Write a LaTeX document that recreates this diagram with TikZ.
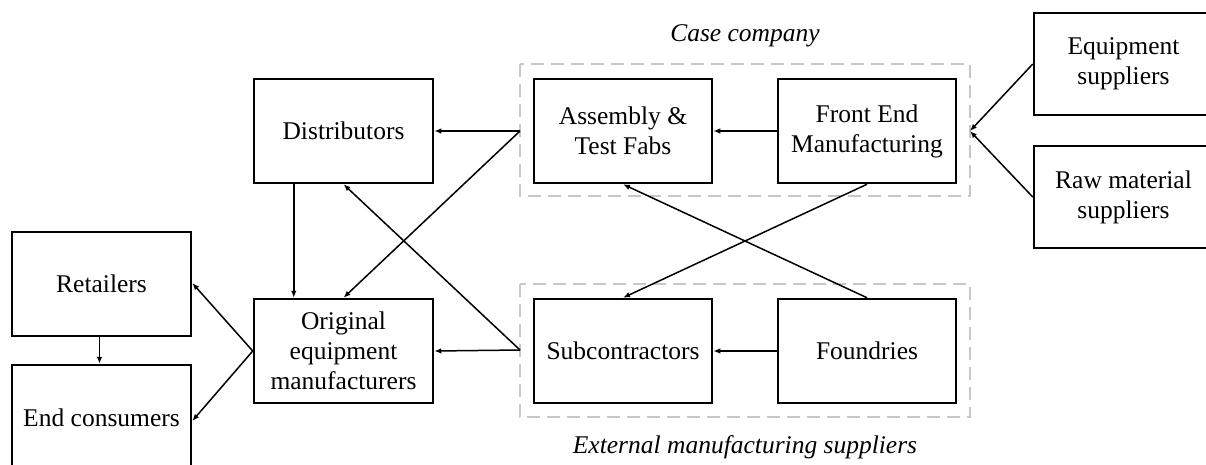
\documentclass[tikz,border=0pt]{standalone}
\usepackage{fontspec}
\setmainfont{Liberation Serif}
\usetikzlibrary{arrows.meta}
\tikzset{
  box/.style={draw=black, line width=2.5pt, minimum width=179pt, minimum height=104pt, inner sep=0pt, align=center, font=\fontsize{25.5}{30}\selectfont},
  grp/.style={draw=black!22, line width=2.2pt, dash pattern=on 13pt off 7pt},
  arr/.style={line width=1.5pt, -{Latex[length=7pt,width=5.5pt]}},
  grpcaption/.style={font=\fontsize{25.5}{30}\selectfont\itshape}
}
\begin{document}
\begin{tikzpicture}[x=1pt,y=-1pt]
\useasboundingbox (0,0) rectangle (1206,464);
\clip (0,0) rectangle (1206,464);
\fill[white] (0,0) rectangle (1206,464);
% groups
\draw[grp] (520,64) rectangle (970,196);
\draw[grp] (520,284) rectangle (970,417);
\node[grpcaption] (casecap) at (745,36) {Case company};
\node[grpcaption] (extcap) at (745,447) {External manufacturing suppliers};
% boxes
\node[box] (dist) at (343.5,131) {Distributors};
\node[box, minimum width=178pt] (asm) at (623,131) {Assembly \&\\Test Fabs};
\node[box, minimum width=178pt] (fe) at (867,131) {Front End\\Manufacturing};
\node[box, minimum height=102pt] (eq) at (1123.5,64) {Equipment\\suppliers};
\node[box, minimum height=102pt] (raw) at (1123.5,197) {Raw material\\suppliers};
\node[box] (ret) at (101.5,284) {Retailers};
\node[box] (endc) at (101.5,417) {};
\node[font=\fontsize{25.5}{30}\selectfont] (endct) at (101.5,418) {End consumers};
\node[box] (oem) at (343.5,351) {Original\\equipment\\manufacturers};
\node[box, minimum width=178pt] (sub) at (623,351) {Subcontractors};
\node[box, minimum width=178pt] (fou) at (867,351) {Foundries};
% junction points
\coordinate (fein) at (970,131);
\coordinate (cl) at (520,131);
\coordinate (el) at (520,350);
% connectors
\draw[arr] (fe.west) -- (asm.east);
\draw[arr] (eq.west) -- (fein);
\draw[arr] (raw.west) -- (fein);
\draw[arr] (cl) -- (dist.east);
\draw[arr] (cl) -- (oem.north);
\draw[arr] (el) -- (oem.east);
\draw[arr] (el) -- (dist.south);
\draw[arr] (fe.south) -- (sub.north);
\draw[arr] (fou.north) -- (asm.south);
\draw[arr] (fou.west) -- (sub.east);
\draw[arr] ([xshift=41pt]dist.south west) -- ([xshift=41pt]oem.north west);
\draw[arr] (oem.west) -- ([yshift=1pt]ret.east);
\draw[arr] (oem.west) -- ([yshift=-4pt]endc.east);
\draw[arr] ([xshift=-2pt]ret.south) -- ([xshift=-2pt]endc.north);
\end{tikzpicture}
\end{document}
